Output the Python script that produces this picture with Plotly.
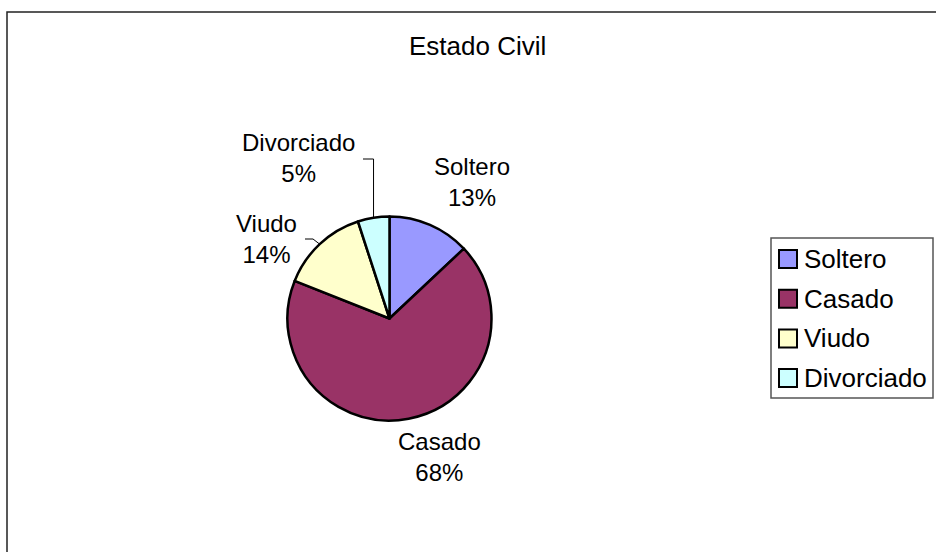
import math
import plotly.graph_objects as go

# Marital status distribution (percent)
categories = ["Soltero", "Casado", "Viudo", "Divorciado"]
values = [13, 68, 14, 5]
colors = ["#9999FF", "#993366", "#FFFFCC", "#CCFFFF"]
title_text = "Estado Civil"

W, H = 936, 552
FONT = "Arial, Liberation Sans, sans-serif"

# Pie placement in pixels
CX, CY, R = 389.5, 318.5, 102


def px(x):
    return x / W


def py(y):
    return 1 - y / H


fig = go.Figure(
    go.Pie(
        labels=categories,
        values=values,
        marker=dict(colors=colors, line=dict(color="black", width=2.5)),
        sort=False,
        direction="clockwise",
        rotation=0,
        textinfo="none",
        hoverinfo="label+percent",
        showlegend=False,
        domain=dict(x=[px(CX - R), px(CX + R)], y=[py(CY + R), py(CY - R)]),
    )
)

# Mid-angle of each slice (degrees clockwise from 12 o'clock)
total = sum(values)
mid_angles = []
acc = 0
for v in values:
    mid_angles.append((acc + v / 2) / total * 360)
    acc += v


def edge_point(angle_deg):
    a = math.radians(angle_deg)
    return CX + R * math.sin(a), CY - R * math.cos(a)


# Outside data labels (pixel anchor of each label's centre)
label_pos = {
    "Soltero": (472, 182),
    "Casado": (439, 457),
    "Viudo": (266, 239),
    "Divorciado": (298, 158),
}

annotations = []
for cat, v in zip(categories, values):
    x, y = label_pos[cat]
    annotations.append(dict(
        x=px(x), y=py(y), xref="paper", yref="paper",
        text=f"{cat}<br>{round(v / total * 100)}%",
        showarrow=False, xanchor="center", yanchor="middle",
        font=dict(family=FONT, size=24, color="black"),
    ))

# Chart title
annotations.append(dict(
    x=px(478), y=py(46), xref="paper", yref="paper", text=title_text,
    showarrow=False, xanchor="center", yanchor="middle",
    font=dict(family=FONT, size=26, color="black"),
))

shapes = []
# Chart area border
shapes.append(dict(type="rect", xref="paper", yref="paper",
                   x0=px(7), y0=py(12), x1=1.05, y1=-0.05,
                   line=dict(color="#222222", width=1.5)))

# Leader lines for the small slices
ex, ey = edge_point(mid_angles[categories.index("Divorciado")])
shapes.append(dict(type="path", xref="paper", yref="paper",
                   path=f"M{px(363)},{py(159)} L{px(ex)},{py(159)} L{px(ex)},{py(ey)}",
                   line=dict(color="black", width=1)))
ex, ey = edge_point(mid_angles[categories.index("Viudo")])
shapes.append(dict(type="path", xref="paper", yref="paper",
                   path=f"M{px(305)},{py(239)} L{px(313)},{py(239)} L{px(ex)},{py(ey)}",
                   line=dict(color="black", width=1)))

# Legend box with swatches
shapes.append(dict(type="rect", xref="paper", yref="paper",
                   x0=px(771), y0=py(238), x1=px(933), y1=py(398),
                   line=dict(color="#555555", width=1.5), fillcolor="white"))
for i, (cat, col) in enumerate(zip(categories, colors)):
    yc = 259 + 39.7 * i
    shapes.append(dict(type="rect", xref="paper", yref="paper",
                       x0=px(779), y0=py(yc - 9), x1=px(797), y1=py(yc + 9),
                       line=dict(color="black", width=2), fillcolor=col))
    annotations.append(dict(
        x=px(802), y=py(yc), xref="paper", yref="paper", text=cat,
        showarrow=False, xanchor="left", yanchor="middle",
        font=dict(family=FONT, size=26, color="black"),
    ))

fig.update_layout(
    width=W, height=H,
    margin=dict(l=0, r=0, t=0, b=0),
    paper_bgcolor="white", plot_bgcolor="white",
    shapes=shapes, annotations=annotations,
    showlegend=False,
)

fig.write_html("out.html")
